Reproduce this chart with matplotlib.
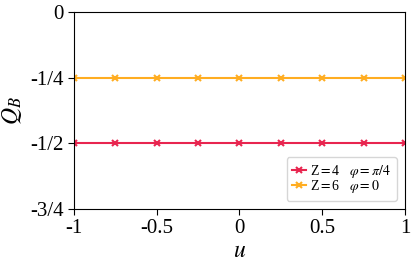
import matplotlib
matplotlib.use("Agg")
import matplotlib.pyplot as plt

plt.rcParams['font.family'] = ['Liberation Serif', 'DejaVu Serif']
plt.rcParams['mathtext.fontset'] = 'stix'

u = [-1, -0.75, -0.5, -0.25, 0, 0.25, 0.5, 0.75, 1]
q_z4 = [-0.5] * 9
q_z6 = [-0.25] * 9

fig = plt.figure(figsize=(4.15, 2.74), dpi=100)
ax = fig.add_axes([0.178, 0.237, 0.798, 0.719])

ax.plot(u, q_z4, color='#e8254f', marker='x', markersize=5, mew=1.5, lw=1.5,
        label=r'Z$=$4   $\varphi=\pi/4$')
ax.plot(u, q_z6, color='#ffad21', marker='x', markersize=5, mew=1.5, lw=1.5,
        label=r'Z$=$6   $\varphi=0$')

ax.set_xlim(-1, 1)
ax.set_ylim(-0.75, 0)
ax.set_xticks([-1, -0.5, 0, 0.5, 1])
ax.set_xticklabels(['-1', '-0.5', '0', '0.5', '1'])
ax.set_yticks([-0.75, -0.5, -0.25, 0])
ax.set_yticklabels(['-3/4', '-1/2', '-1/4', '0'])
ax.tick_params(labelsize=15, length=4, direction='out')
ax.set_xlabel(r'$u$', fontsize=17, labelpad=2)
ax.set_ylabel(r'$Q_B$', fontsize=17, labelpad=4)

ax.legend(loc='lower right', fontsize=10, handlelength=1.0, handletextpad=0.3,
          labelspacing=-0.1, borderpad=0.4, borderaxespad=0.6, frameon=True)

fig.savefig('out.png', dpi=100)
